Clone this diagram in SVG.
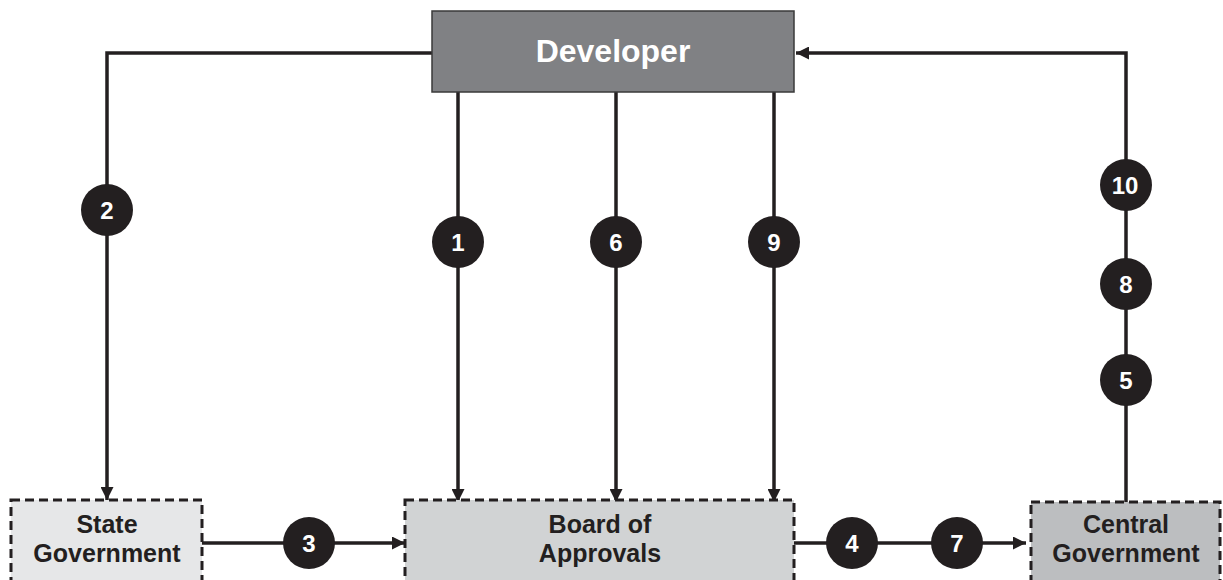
<svg xmlns="http://www.w3.org/2000/svg" width="1223" height="580" viewBox="0 0 1223 580">
  <style>
    .ln { fill: none; stroke: #231f20; stroke-width: 3.5; }
    .box { stroke: #231f20; stroke-width: 3; stroke-dasharray: 9 5; }
    .lbl { font-family: "Liberation Sans", Arial, sans-serif; font-weight: bold; font-size: 25px; fill: #231f20; text-anchor: middle; }
    .badge circle { fill: #231f20; }
    .badge text { font-family: "Liberation Sans", Arial, sans-serif; font-weight: bold; font-size: 24px; fill: #ffffff; text-anchor: middle; }
  </style>
  <defs>
    <marker id="arrow" viewBox="0 0 13 13" refX="13" refY="6.5" markerWidth="13" markerHeight="13" markerUnits="userSpaceOnUse" orient="auto">
      <path d="M0,0 L13,6.5 L0,13 z" fill="#231f20"/>
    </marker>
  </defs>
  <rect width="1223" height="580" fill="#ffffff"/>

  <!-- connectors -->
  <g id="connectors">
    <path class="ln" d="M432,53 H107 V500" marker-end="url(#arrow)"/>
    <path class="ln" d="M1126,502 V53 H796" marker-end="url(#arrow)"/>
    <path class="ln" d="M458,92 V502" marker-end="url(#arrow)"/>
    <path class="ln" d="M616,92 V502" marker-end="url(#arrow)"/>
    <path class="ln" d="M774,92 V502" marker-end="url(#arrow)"/>
    <path class="ln" d="M202,543 H405" marker-end="url(#arrow)"/>
    <path class="ln" d="M794,543 H1026" marker-end="url(#arrow)"/>
  </g>

  <!-- step badges -->
  <g id="badges" class="badge">
    <g id="step-2"><circle cx="107" cy="210" r="26"/><text x="107" y="219">2</text></g>
    <g id="step-1"><circle cx="458" cy="242" r="26"/><text x="458" y="251">1</text></g>
    <g id="step-6"><circle cx="616" cy="242" r="26"/><text x="616" y="251">6</text></g>
    <g id="step-9"><circle cx="774" cy="242" r="26"/><text x="774" y="251">9</text></g>
    <g id="step-10"><circle cx="1126" cy="185" r="26"/><text x="1125" y="194">10</text></g>
    <g id="step-8"><circle cx="1126" cy="284" r="26"/><text x="1126" y="293">8</text></g>
    <g id="step-5"><circle cx="1126" cy="380" r="26"/><text x="1126" y="389">5</text></g>
    <g id="step-3"><circle cx="309" cy="543" r="26"/><text x="309" y="552">3</text></g>
    <g id="step-4"><circle cx="852" cy="543" r="26"/><text x="852" y="552">4</text></g>
    <g id="step-7"><circle cx="957" cy="543" r="26"/><text x="957" y="552">7</text></g>
  </g>

  <!-- nodes -->
  <g id="developer">
    <rect x="432" y="11" width="362" height="81" fill="#808184" stroke="#3a3a3a" stroke-width="1.5"/>
    <text x="613" y="62" font-family="Liberation Sans, Arial, sans-serif" font-weight="bold" font-size="32" fill="#ffffff" text-anchor="middle">Developer</text>
  </g>
  <g id="state-government">
    <rect class="box" x="11" y="500" width="191" height="90" fill="#e6e7e8"/>
    <text class="lbl" x="107" y="533">State</text>
    <text class="lbl" x="107" y="562">Government</text>
  </g>
  <g id="board-of-approvals">
    <rect class="box" x="405" y="500" width="389" height="90" fill="#d1d3d4"/>
    <text class="lbl" x="600" y="533">Board of</text>
    <text class="lbl" x="600" y="562">Approvals</text>
  </g>
  <g id="central-government">
    <rect class="box" x="1031" y="502" width="189" height="90" fill="#bcbec0"/>
    <text class="lbl" x="1126" y="533">Central</text>
    <text class="lbl" x="1126" y="562">Government</text>
  </g>
</svg>
